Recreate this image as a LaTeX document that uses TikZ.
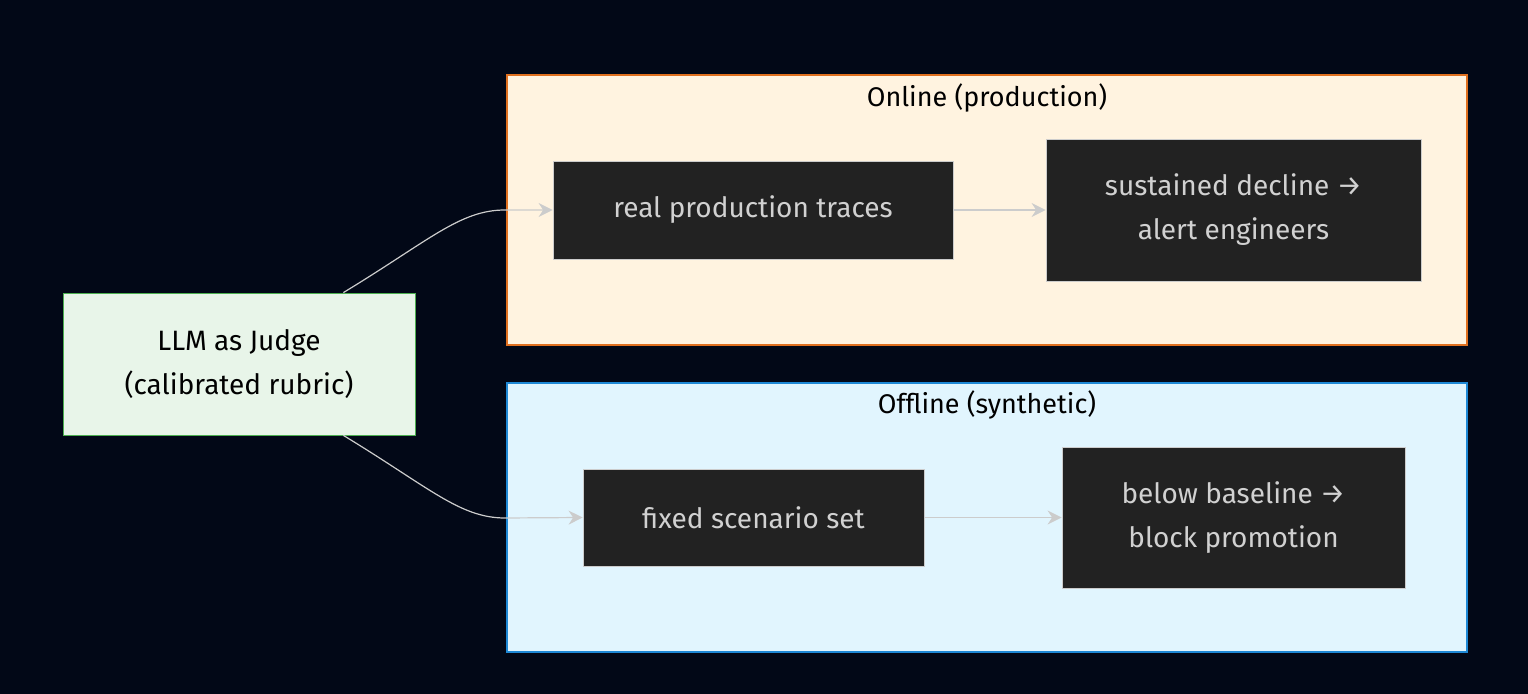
\documentclass[tikz,border=0pt]{standalone}
\usepackage{fontspec}
\setmainfont{Fira Sans}
\usetikzlibrary{arrows.meta,positioning}
\definecolor{bgnavy}{HTML}{020817}
\definecolor{darkbox}{HTML}{222222}
\definecolor{lightline}{HTML}{CCCCCC}
\definecolor{onfill}{HTML}{FFF3E0}
\definecolor{onedge}{HTML}{E0701F}
\definecolor{offfill}{HTML}{E1F5FE}
\definecolor{offedge}{HTML}{1E88D5}
\definecolor{judgefill}{HTML}{E8F5E9}
\definecolor{judgeedge}{HTML}{4CAF50}
\tikzset{
  stage/.style={draw=lightline, fill=darkbox, text=lightline!90!white, align=center, font=\fontsize{14}{22}\selectfont, inner sep=0pt},
  link/.style={draw=lightline, line width=0.6pt, -{Stealth[length=7pt,width=7pt]}},
  group/.style={line width=0.8pt},
}
\begin{document}
\begin{tikzpicture}[x=0.5pt,y=-0.5pt]
\useasboundingbox[fill=bgnavy] (0,0) rectangle (1528,694);
% clusters
\draw[group, draw=onedge, fill=onfill] (507,75) rectangle (1467,345);
\node[font=\fontsize{13.5}{16}\selectfont] (ontitle) at (987,98) {Online (production)};
\draw[group, draw=offedge, fill=offfill] (507,383) rectangle (1467,652);
\node[font=\fontsize{13.5}{16}\selectfont] (offtitle) at (987,405) {Offline (synthetic)};
% nodes
\node[draw=judgeedge, fill=judgefill, align=center, font=\fontsize{14}{22}\selectfont, minimum width=176pt, minimum height=71pt, inner sep=0pt] (judge) at (239,364) {LLM as Judge\\(calibrated rubric)};
\node[stage, minimum width=200pt, minimum height=49pt] (real) at (753,210) {real production traces};
\node[stage, minimum width=187.5pt, minimum height=71pt] (decline) at (1233.5,210) {sustained decline →\\alert engineers};
\node[stage, minimum width=170.5pt, minimum height=48.5pt] (fixed) at (753.5,517.5) {fixed scenario set};
\node[stage, minimum width=171.5pt, minimum height=70.5pt] (below) at (1233.5,517.5) {below baseline →\\block promotion};
% links
\draw[link] (judge.north east) ++(-72,0) coordinate (ja) .. controls (430,240) and (460,210) .. (505,210) -- (real.west);
\draw[link] (judge.south east) ++(-72,0) coordinate (jb) .. controls (430,488) and (460,518) .. (505,518) -- (fixed.west);
\draw[link] (real) -- (decline);
\draw[link] (fixed) -- (below);
\end{tikzpicture}
\end{document}
